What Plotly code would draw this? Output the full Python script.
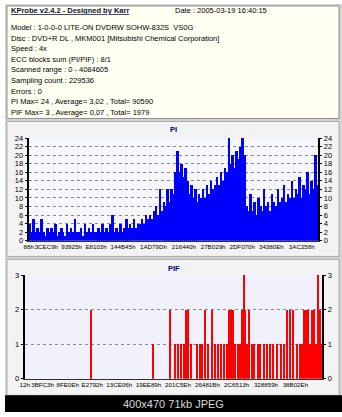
import plotly.graph_objects as go

W, H = 342, 417
LBA_MAX = 4084605

# ---------------- data ----------------
header_title = "KProbe v2.4.2 - Designed by Karr"
header_date = "Date : 2005-03-19 16:40:15"
header_lines = [
    "Model : 1-0-0-0 LITE-ON DVDRW SOHW-832S  VS0G",
    "Disc : DVD+R DL , MKM001 [Mitsubishi Chemical Corporation]",
    "Speed : 4x",
    "ECC blocks sum (PI/PIF) : 8/1",
    "Scanned range : 0 - 4084605",
    "Sampling count : 229536",
    "Errors : 0",
    "PI Max= 24 , Average= 3,02 , Total= 90590",
    "PIF Max= 3 , Average= 0,07 , Total= 1979",
]

# PI samples (147 equal bins over the scanned range)
pi_values = [
    4, 2, 5, 2, 3, 2, 5, 2, 1, 3, 2, 3, 2, 4, 1, 2, 3, 2, 1, 4,
    2, 3, 2, 5, 2, 2, 3, 1, 4, 2, 3, 2, 4, 2, 2, 3, 2, 4, 2, 3,
    2, 4, 6, 2, 3, 2, 4, 2, 3, 5, 3, 4, 3, 5, 3, 4,
    4, 5, 4, 6, 5, 6, 5, 7,
    8, 6, 12, 7, 9, 8, 12, 9,
    12, 11, 16, 21,
    16, 18, 15, 17, 14,
    11, 13, 10, 12, 9, 11, 10, 12, 10, 13,
    11, 14, 12, 13, 15, 13, 16, 14, 17, 16, 24,
    18, 20, 17, 21, 19, 22, 24, 20,
    8, 7, 11, 7, 9, 6, 10, 8, 7, 12, 8, 9, 7, 11,
    9, 8, 12, 9, 10, 13, 9, 11, 10, 14, 10, 12, 11, 15, 10, 13,
    12, 16, 11, 14, 12, 20, 13,
]
pi_tick_labels = ["88h", "3CEC9h", "93925h", "E8103h", "144B45h", "1AD79Dh",
                  "216440h", "27B029h", "2DF070h", "34380Eh", "3AC258h"]
pi_tick_lba = [136, 249545, 604453, 950531, 1329989, 1759133,
               2188352, 2601001, 3010672, 3422222, 3850840]

# PIF events (LBA position, count)
pif_lba = [906200, 1758300, 1988200, 2055800, 2096400, 2137000, 2177500,
           2204600, 2231700, 2272200, 2366900, 2407500, 2434500, 2475100,
           2515700, 2569800, 2610400, 2650900, 2691500, 2732100, 2772700,
           2799700, 2826800, 2853800, 2880900, 2921400, 2948500, 2975500,
           3002600, 3016100, 3043200, 3070200, 3110800, 3137800, 3191900,
           3232500, 3286600, 3327200, 3367800, 3408300, 3462400, 3516600,
           3557100, 3597700, 3638300, 3678800, 3732900, 3773500, 3800600,
           3827600, 3854700, 3881700, 3908800, 3935800, 3962900, 3989900,
           4017000, 4044000, 4071100]
pif_values = [2, 1, 2, 1, 1, 1, 1,
              2, 2, 1, 1, 1, 1, 2,
              1, 2, 1, 1, 1, 1, 1,
              2, 2, 2, 1, 1, 1, 2,
              3, 2, 1, 2, 1, 1, 1,
              1, 1, 1, 1, 1, 1, 1,
              1, 2, 2, 2, 1, 1, 1,
              2, 2, 2, 1, 2, 2, 1,
              3, 2, 1]
pif_tick_labels = ["12h", "3BFC3h", "8FE0Eh", "E2792h", "13CE06h", "19EE89h",
                   "201C5Eh", "26481Bh", "2C6513h", "328859h", "38B02Eh"]
pif_tick_lba = [18, 245699, 589326, 927634, 1297926, 1699465,
                2104414, 2508827, 2909459, 3311705, 3715118]


# ---------------- helpers ----------------
def fx(x):
    return x / W


def fy(y):
    return 1 - y / H


FONT = "Liberation Sans"
TICKF = dict(family=FONT, size=7.5, color="#000000")
XTICKF = dict(family=FONT, size=6.2, color="#000000")

step = LBA_MAX / len(pi_values)
pi_x = [(i + 0.5) * step for i in range(len(pi_values))]

fig = go.Figure()
fig.add_trace(go.Bar(x=pi_x, y=pi_values, width=step, xaxis="x", yaxis="y",
                     marker=dict(color="#0000ff", line=dict(width=0)),
                     hoverinfo="skip", showlegend=False))
fig.add_trace(go.Bar(x=pif_lba, y=pif_values, width=15000, xaxis="x2", yaxis="y2",
                     marker=dict(color="#ff0000", line=dict(width=0)),
                     hoverinfo="skip", showlegend=False))
fig.add_trace(go.Scatter(x=[None], y=[None], xaxis="x", yaxis="y3",
                         hoverinfo="skip", showlegend=False))
fig.add_trace(go.Scatter(x=[None], y=[None], xaxis="x2", yaxis="y4",
                         hoverinfo="skip", showlegend=False))

shapes = []


def rect(x0, y0, x1, y1, fill, line=None, lw=1):
    shapes.append(dict(type="rect", xref="paper", yref="paper",
                       x0=fx(x0), x1=fx(x1), y0=fy(y1), y1=fy(y0),
                       fillcolor=fill, line=dict(color=line or fill, width=lw if line else 0),
                       layer="below"))


rect(0, 0, 342, 417, "#d4d4d4")
rect(2, 2, 339, 117, "#fffff2", "#8c8c8c")
rect(2, 120, 339, 258, "#f3f3f3", "#a8a8a8")
rect(2, 261, 339, 400, "#f3f3f3", "#a8a8a8")
rect(24, 137, 318, 242, "#f6f6fd")
rect(20, 277, 322, 383, "#f1f1fb")
rect(0, 400, 342, 417, "#000000")

ann = []


def text(x, y, s, size=7.5, color="#000000", anchor="left"):
    ann.append(dict(xref="paper", yref="paper", x=fx(x), y=fy(y), text=s,
                    showarrow=False, xanchor=anchor, yanchor="middle",
                    font=dict(family=FONT, size=size, color=color)))


text(4, 7, "<b><u>" + header_title + "</u></b>", size=7.5, color="#101040")
text(170, 7, header_date)
for i, s in enumerate(header_lines):
    text(4, 24 + i * 10.84, s)
text(171, 128, "<b>PI</b>", size=7.5, color="#000080", anchor="center")
text(171, 270, "<b>PIF</b>", size=7.5, color="#000080", anchor="center")
text(171, 409, "400x470 71kb JPEG", size=11, color="#d8d8d8", anchor="center")

grid = dict(showgrid=True, gridcolor="#8a8a8a", griddash="dot", gridwidth=1)

fig.update_layout(
    width=W, height=H, margin=dict(l=0, r=0, t=0, b=0),
    paper_bgcolor="rgba(0,0,0,0)", plot_bgcolor="rgba(0,0,0,0)",
    barmode="overlay", bargap=0,
    shapes=shapes, annotations=ann,
    xaxis=dict(domain=[fx(24), fx(318)], range=[0, LBA_MAX], anchor="y",
               tickvals=pi_tick_lba, ticktext=pi_tick_labels, ticks="",
               tickangle=0, showgrid=False, showline=True, linecolor="#303030",
               linewidth=1, tickfont=XTICKF, zeroline=False),
    yaxis=dict(domain=[fy(242), fy(137)], range=[0, 24], dtick=2, anchor="x",
               showline=True, linecolor="#000000", linewidth=2, ticks="outside",
               ticklen=2, tickcolor="#000000", tickfont=TICKF, zeroline=False,
               **grid),
    yaxis3=dict(overlaying="y", side="right", anchor="x", range=[0, 24], dtick=2,
                showgrid=False, showline=True, linecolor="#000000", linewidth=2,
                ticks="outside", ticklen=2, tickcolor="#000000", tickfont=TICKF,
                zeroline=False),
    xaxis2=dict(domain=[fx(20), fx(322)], range=[0, LBA_MAX], anchor="y2",
                tickvals=pif_tick_lba, ticktext=pif_tick_labels, ticks="",
                tickangle=0, showgrid=False, showline=True, linecolor="#303030",
                linewidth=1, tickfont=XTICKF, zeroline=False),
    yaxis2=dict(domain=[fy(383), fy(277)], range=[0, 3], dtick=1, anchor="x2",
                showline=True, linecolor="#000000", linewidth=2, ticks="outside",
                ticklen=2, tickcolor="#000000", tickfont=TICKF, zeroline=False,
                **grid),
    yaxis4=dict(overlaying="y2", side="right", anchor="x2", range=[0, 3], dtick=1,
                showgrid=False, showline=True, linecolor="#000000", linewidth=2,
                ticks="outside", ticklen=2, tickcolor="#000000", tickfont=TICKF,
                zeroline=False),
)

fig.write_html("out.html")
